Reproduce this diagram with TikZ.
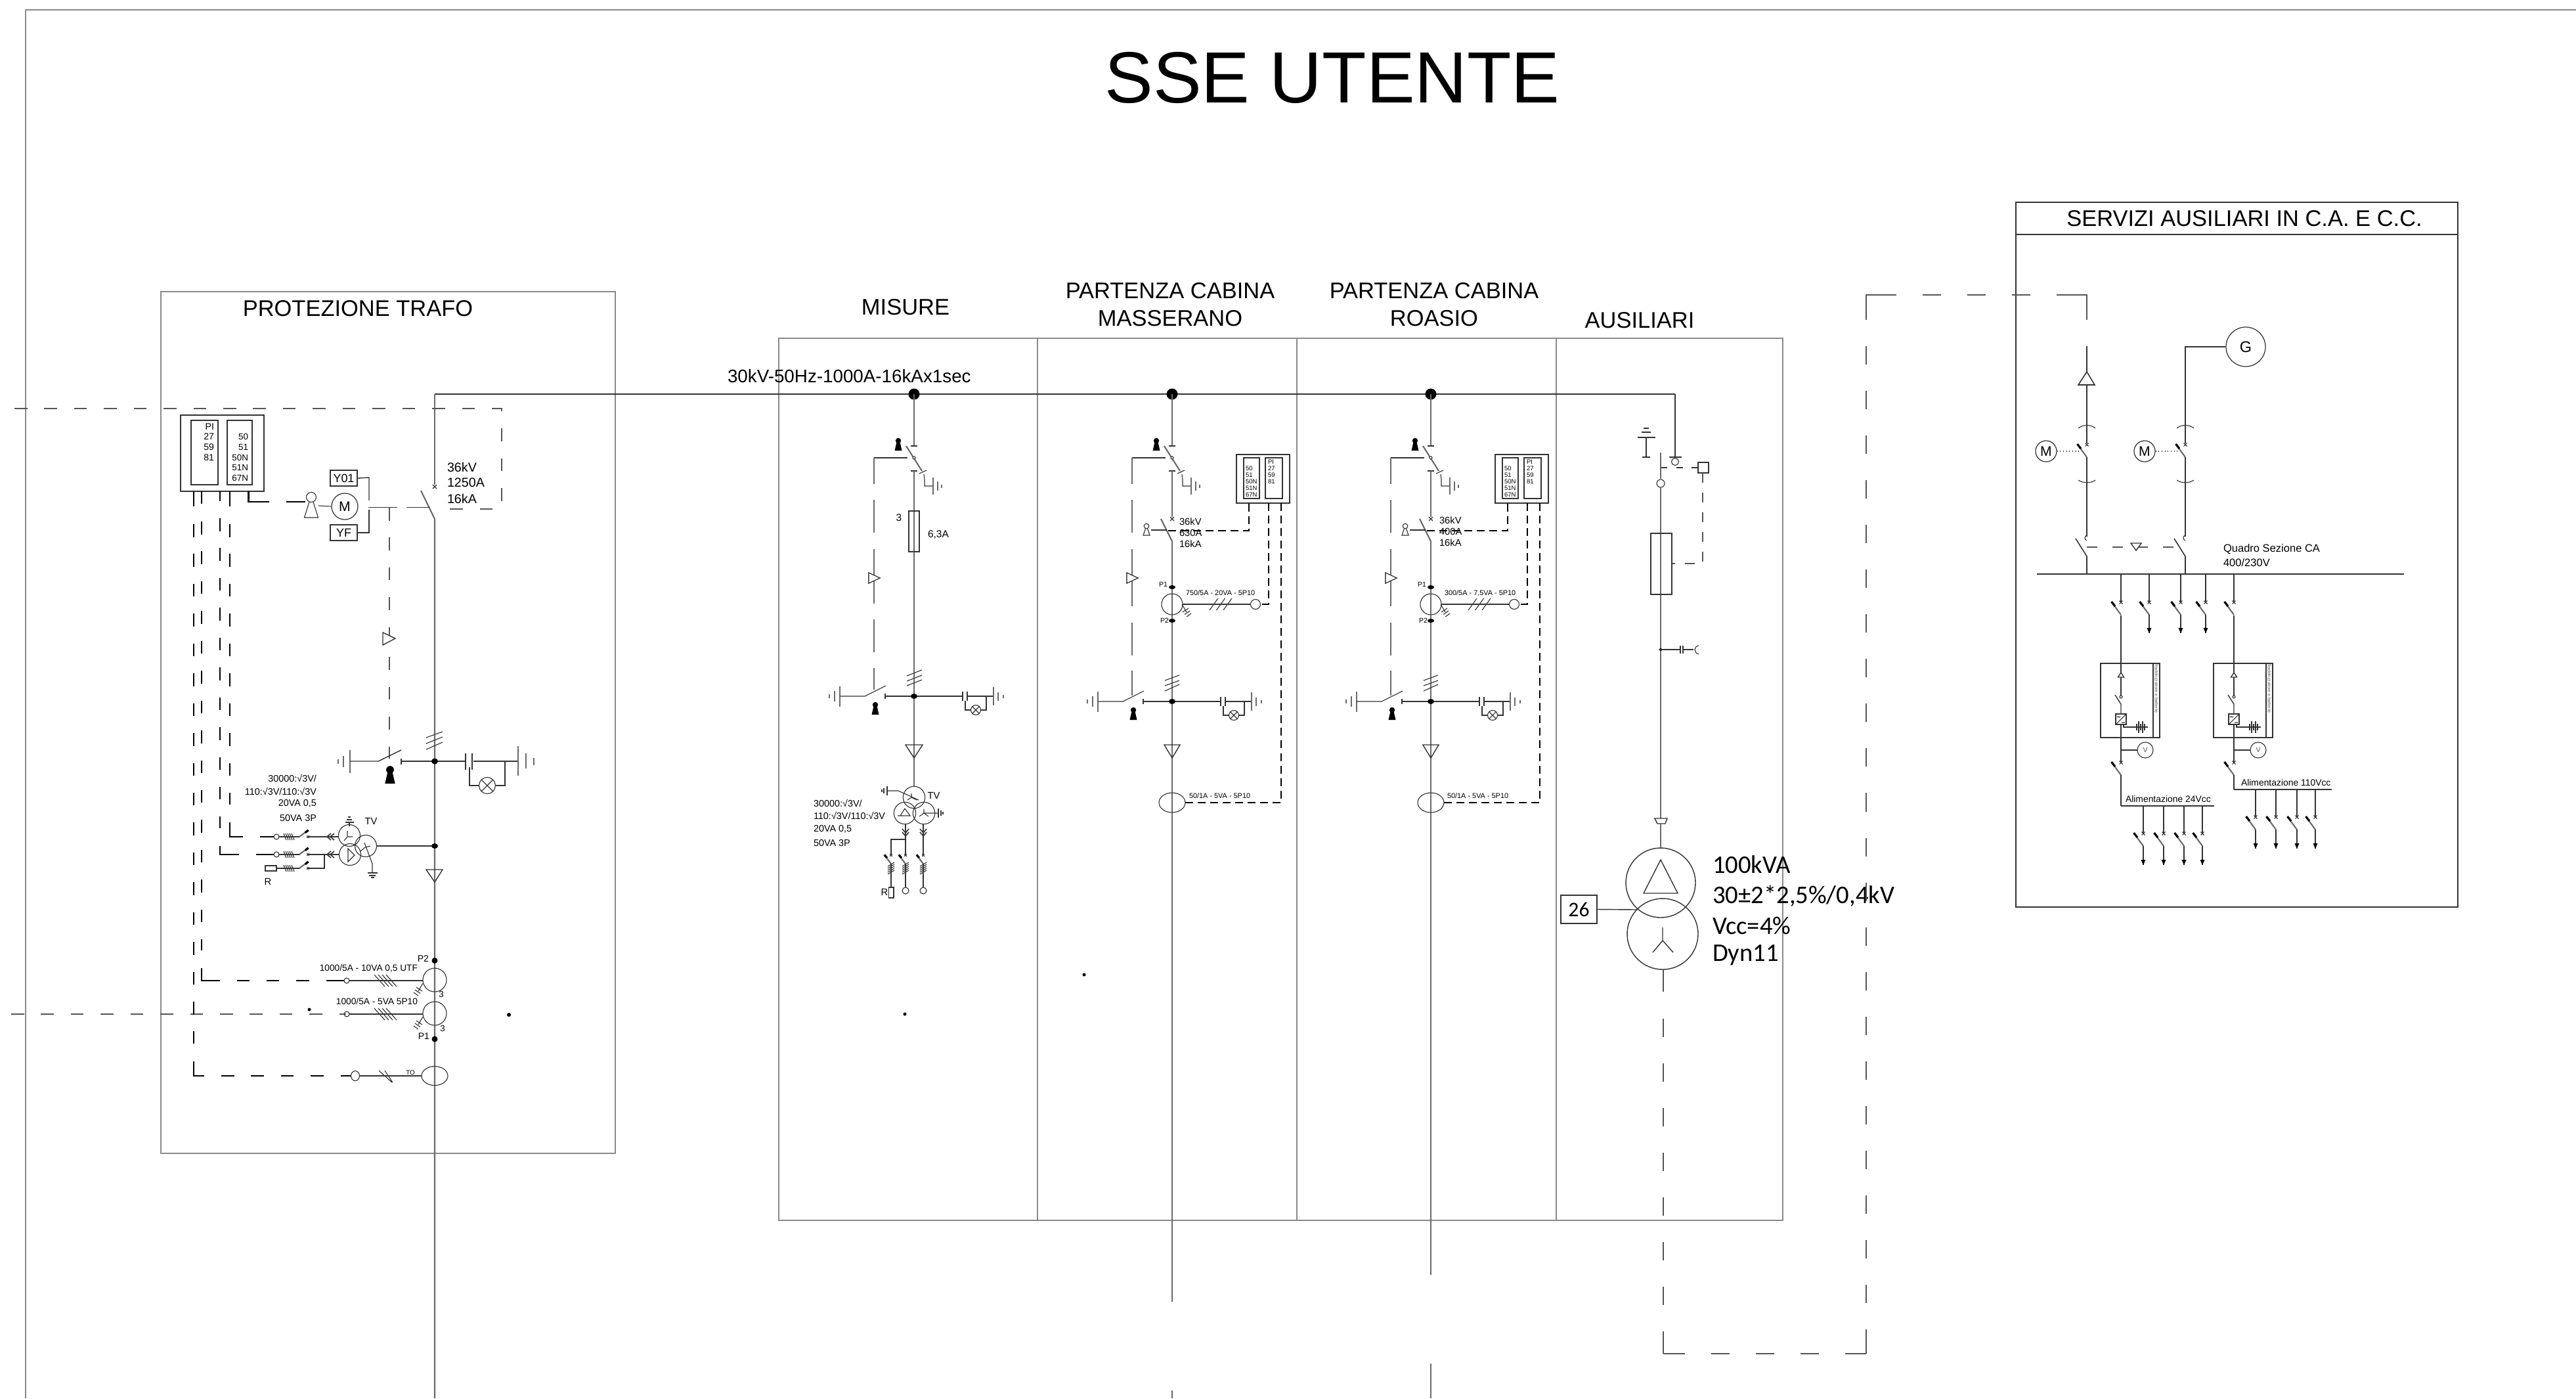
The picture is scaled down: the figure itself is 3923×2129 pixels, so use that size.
\documentclass[tikz,border=0pt]{standalone}
\usepackage{fontspec}
\setmainfont{Liberation Sans}
\newfontfamily\calfont{Carlito}
\newcommand\fsz[1]{\fontsize{#1}{#1}\selectfont}
\newcommand\Put[4][]{\begin{scope}[shift={(#2,#3)},#1]#4\end{scope}}
\definecolor{mainc}{HTML}{6A6A6A}
\definecolor{thinc}{HTML}{333333}
\definecolor{dashc}{HTML}{555555}
\definecolor{colc}{HTML}{8A8A8A}
\tikzset{
  mn/.style={draw=mainc,line width=.6pt},
  th/.style={draw=thinc,line width=.32pt},
  tk/.style={draw=black,line width=.6pt},
  frm/.style={draw=colc,line width=.55pt},
  dA/.style={dash pattern=on 5.55pt off 7.37pt},
  dB/.style={dash pattern=on 7.97pt off 11.38pt},
  dC/.style={dash pattern=on 3.41pt off 2.0pt},
  dD/.style={dash pattern=on 4.27pt off 4.27pt},
  lbl/.style={inner sep=0pt,outer sep=0pt,text=black},
  ttl/.style={lbl,font=\fsz{9.8},align=center},
  boxn/.style={draw=thinc,line width=.4pt,inner sep=0pt,font=\fsz{5.1},minimum width=.41cm,minimum height=.24cm},
  mach/.style={draw=thinc,line width=.35pt,circle,inner sep=0pt,font=\fsz{6},minimum size=.32cm},
}
% --- symbols, drawn round their own origin ---
\def\BKey{\fill[black] (0,0) circle[radius=4.2]; \fill[black] (-2,0)--(2,0)--(5.5,15)--(-5.5,15)--cycle;}
\def\WKey{\draw[th] (0,0) circle[radius=3.8]; \draw[th] (-1.5,3.6)--(-5,14)--(5,14)--(1.5,3.6);}
\def\Cross{\draw[th] (-3,-3)--(3,3) (-3,3)--(3,-3);}
\def\Mcb{\draw[th] (-2.5,-2.5)--(2.5,2.5) (-2.5,2.5)--(2.5,-2.5); \draw[mn] (-14,0)--(0,19); \draw[line width=.9pt,black] (-14.5,-1)--(-9,6);}
\def\HashV{\foreach \q in {-6,-3,0,3,6} {\draw[th] (-5,\q+3)--(5,\q-3);}}
\def\HashH{\foreach \q in {-6,-3,0,3,6} {\draw[th] (\q-2,-5)--(\q+2,5);}}
\def\ChevH{\draw[th,line width=.45pt] (3,-5)--(-3,0)--(3,5) (8,-5)--(2,0)--(8,5);}
\def\ChevV{\draw[th,line width=.45pt] (-5,-3)--(0,3)--(5,-3) (-5,2)--(0,8)--(5,2);}
\def\EarthCT{\draw[th] (0,0)--(7,12); \draw[th] (1,12)--(10,6) (4,15.5)--(12,10) (7,19)--(14,14);}
\def\Lamp#1{\draw[th] (0,0) circle[radius=#1]; \draw[th] (-.7*#1,-.7*#1)--(.7*#1,.7*#1) (-.7*#1,.7*#1)--(.7*#1,-.7*#1);}
\def\ArrowD{\fill[black] (-3.5,-8)--(3.5,-8)--(0,0)--cycle;}
\newcommand\Arcs[1]{\draw[th] (-13,#1+5) .. controls (-6,#1-1) and (6,#1-1) .. (13,#1+5);}
% earthing switch with capacitor and lamp of the right-hand bays (y is absolute)
\newcommand\LS[1]{\Put{0}{#1}{
  \draw[mn] (-113,-15.5)--(-113,15.5) (-121,-8)--(-121,8) (-129,-3)--(-129,3);
  \draw[th] (-113,0)--(-75,0)--(-43,-16);
  \draw[th] (-44,-4)--(-44,4) (-44,0)--(74,0);
  \draw[th] (74,-7)--(74,7) (81,-7)--(81,7);
  \draw[th] (82,0)--(121,0);
  \draw[mn] (121,-14)--(121,14) (128,-6.5)--(128,6.5) (136,-2.5)--(136,2.5);
  \draw[th] (78,7)--(78,21)--(87,21) (110,0)--(110,21)--(101,21);
  \Put{94}{21}{\Lamp{7.5}}
  \Put{-59}{13}{\BKey}
  \fill[black] (0,0) ellipse[x radius=5,y radius=4];
}}
% isolator at the top of a bay
\def\Isol{
  \fill[black] (0,600) circle[radius=8.5];
  \draw[mn] (0,600)--(0,679);
  \draw[th] (-5,679)--(5,679) (-5,717)--(5,717);
  \draw[mn] (-12,679)--(12,717);
  \draw[th,fill=white] (0,697) circle[radius=2];
  \draw[th] (8,721)--(19,716) (15,722)--(16,730)--(16,740)--(29,740);
  \draw[mn] (29,727)--(29,753) (36,733)--(36,747) (42,738)--(42,743);
  \Put{-24}{671}{\BKey}
  \draw[th,line width=.4pt] (-10,697)--(-61,697);
  \draw[mn,line width=.45pt] (-61,697)--(-61,737) (-61,761)--(-61,811);
  \draw[th,fill=white] (-69,872)--(-52,880)--(-69,888)--cycle;
}
% one outgoing bay
\newcommand\Bay[7]{\Put{#1}{0}{
  \Isol
  \draw[mn,line width=.45pt] (-61,836)--(-61,923) (-61,948)--(-61,998) (-61,1021)--(-61,1059);
  \draw[th,fill=white] (-69,872)--(-52,880)--(-69,888)--cycle;
  \draw[mn] (0,717)--(0,787);
  \Put{0}{790}{\Cross}
  \draw[mn] (-17,790)--(0,824);
  \draw[mn] (0,824)--(0,#4) (0,#5)--(0,2129);
  \Put{-39}{801}{\WKey}
  \draw[th] (-32,807)--(-8,807);
  \node[lbl,anchor=west,font=\fsz{4.2}] (a#1) at (#6,794+#7) {36kV};
  \node[lbl,anchor=west,font=\fsz{4.2}] (b#1) at (#6,811+#7) {#2};
  \node[lbl,anchor=west,font=\fsz{4.2}] (c#1) at (#6,828+#7) {16kA};
  \draw[tk,dC] (-6,808)--(117,808)--(117,766);
  % relay
  \draw[th,line width=.45pt] (98,692) rectangle (179,766);
  \draw[th,line width=.45pt] (109,697) rectangle (133,759) (142,697) rectangle (168,759);
  \foreach \y/\t in {713/50,723/51,733/50N,743/51N,753/67N} {\node[lbl,anchor=west,font=\fsz{2.7}] at (112,\y) {\t};}
  \foreach \y/\t in {703/PI,713/27,723/59,733/81} {\node[lbl,anchor=west,font=\fsz{2.7}] at (146,\y) {\t};}
  \draw[tk,dC] (147,766)--(147,920)--(135,920);
  \draw[tk,dC] (166,766)--(166,1222)--(20,1222);
  % CT
  \draw[th] (0,920) circle[radius=16];
  \fill[black] (0,894) ellipse[x radius=5,y radius=3] (0,945) ellipse[x radius=5,y radius=3];
  \node[lbl,anchor=east,font=\fsz{3}] at (-7,890) {P1};
  \node[lbl,anchor=east,font=\fsz{3}] at (-5,945) {P2};
  \draw[th,line width=.4pt] (16,920)--(120,920);
  \draw[th] (127,920) circle[radius=7.5];
  \foreach \q in {57,67.5,78} {\draw[th] (\q,929)--(\q+13,911);}
  \Put{15}{920}{\EarthCT}
  \node[lbl,anchor=west,font=\fsz{3.1}] at (21,903) {#3};
  % hash
  \draw[th] (-11,1036)--(11,1028) (-11,1044)--(11,1036) (-11,1052)--(11,1042);
  \LS{1068}
  \draw[th,line width=.4pt] (-12,1134)--(12,1134)--(0,1154)--cycle;
  \draw[th] (0,1222) ellipse[x radius=20,y radius=15];
}}
% low-voltage feeder with arrow
\newcommand\Feeder[4]{\Put{#1}{0}{
  \draw[th,line width=.4pt] (0,#2)--(0,#3);
  \Put{0}{#3}{\Mcb}
  \draw[th,line width=.4pt] (0,#3+19)--(0,#4);
  \Put{0}{#4}{\ArrowD}
}}
% rectifier enclosure
\newcommand\Ups[2]{\Put{#1}{0}{
  \draw[th,line width=.45pt] (-31,1010) rectangle (59,1123);
  \draw[th,line width=#2] (49,1010)--(49,1123);
  \node[lbl,rotate=-90,font=\fsz{2},text=dashc] at (54,1048) {Raddrizzatore e batterie};
  \draw[th,line width=.4pt] (0,937)--(0,1024);
  \draw[th,line width=.4pt,fill=white] (0,1024)--(4.5,1031)--(-4.5,1031)--cycle;
  \draw[th,line width=.4pt] (0,1031)--(0,1059);
  \draw[th,fill=white] (0,1061) circle[radius=2];
  \draw[th,line width=.4pt] (-9,1058)--(0,1072)--(0,1087);
  \draw[th,line width=.4pt] (-8,1087) rectangle (8,1103);
  \draw[th] (-8,1103)--(8,1087) (1,1100)--(6,1100);
  \draw[th] (-6,1092) .. controls (-4,1089) and (-3,1094) .. (-1,1091);
  \draw[th] (4,1103)--(4,1107)--(41,1107);
  \draw[th] (24,1102)--(24,1112) (27,1098)--(27,1116) (30,1102)--(30,1112) (33,1098)--(33,1116) (36,1102)--(36,1112);
  \draw[th,line width=.4pt] (0,1103)--(0,1161) (0,1142)--(25,1142);
  \draw[th] (37,1142) circle[radius=12];
  \node[lbl,font=\fsz{3},text=dashc] at (37,1142) {V};
  \Put{0}{1161}{\Mcb}
}}
\begin{document}
\begin{tikzpicture}[x=0.01cm,y=-0.01cm]
\useasboundingbox (0,0) rectangle (3923,2129);
\fill[white] (0,0) rectangle (3923,2129);
% outer frame
\draw[frm] (3923,15)--(39,15)--(39,2129);
\node[lbl,font=\fsz{31.4}] (title) at (2029,118) {SSE UTENTE};
% boxes
\draw[frm] (245,444) rectangle (937,1756);
\draw[frm] (1186,515) rectangle (2715,1858);
\draw[frm] (1580,515)--(1580,1858) (1975,515)--(1975,1858) (2370,515)--(2370,1858);
\draw[frm,draw=thinc] (3070,308) rectangle (3743,1381);
\draw[th,line width=.45pt] (3070,357)--(3743,357);
% titles
\node[ttl] (tp) at (545,470) {PROTEZIONE TRAFO};
\node[ttl] (tm) at (1379,468) {MISURE};
\node[ttl] (tb1a) at (1782,443) {PARTENZA CABINA};
\node[ttl] (tb1b) at (1782,485) {MASSERANO};
\node[ttl] (tb2a) at (2184,443) {PARTENZA CABINA};
\node[ttl] (tb2b) at (2184,485) {ROASIO};
\node[ttl] (ta) at (2497,488) {AUSILIARI};
\node[ttl] (ts) at (3418,333) {SERVIZI AUSILIARI IN C.A. E C.C.};
\node[lbl,font=\fsz{7.9},anchor=west] (tv) at (1108,573) {30kV-50Hz-1000A-16kAx1sec};
% busbar
\draw[mn,draw=thinc,line width=.55pt] (662,600)--(2551,600);
% ---------------- PROTEZIONE TRAFO ----------------
\draw[mn] (662,600)--(662,738);
\Put{662}{741}{\Cross}
\draw[mn] (641,747)--(662,790)--(662,2129);
\draw[dashc,line width=.4pt,dA] (22,622)--(764,622)--(764,775)--(672,775);
\draw[dashc,line width=.4pt,dA] (17,1544)--(527,1544);
\node[lbl,font=\fsz{5.6},anchor=west] (cb1) at (681,711) {36kV};
\node[lbl,font=\fsz{5.6},anchor=west] (cb2) at (681,735) {1250A};
\node[lbl,font=\fsz{5.6},anchor=west] (cb3) at (681,759) {16kA};
% relay
\draw[th,line width=.5pt] (275,632) rectangle (402,748);
\draw[th,line width=.45pt] (291,640) rectangle (332,738) (346,640) rectangle (384,738);
\foreach \y/\t in {650/PI,665/27,681/59,697/81} {\node[lbl,anchor=east,font=\fsz{4}] at (326,\y) {\t};}
\foreach \y/\t in {665/50,681/51,697/50N,712/51N,728/67N} {\node[lbl,anchor=east,font=\fsz{3.8}] at (378,\y) {\t};}
% protection wires
\draw[tk] (295,748)--(295,771) (307,748)--(307,767) (335,748)--(335,762.5) (350,748)--(350,770.6);
\draw[tk,dA] (295,798)--(295,1589);
\draw[tk,dA] (307,794)--(307,1447);
\draw[tk,dA] (335,789)--(335,1261);
\draw[tk,dA] (350,798)--(350,1225);
\draw[tk] (295,1616)--(295,1638)--(311,1638) (307,1474)--(307,1493)--(335,1493) (335,1288)--(335,1301)--(364,1301) (350,1252)--(350,1274)--(370,1274);
\draw[tk,dA] (337,1638)--(519,1638);
\draw[tk] (519,1638)--(534,1638);
\draw[tk,dA] (360.5,1493)--(497,1493);
\draw[tk] (497,1493)--(524,1493);
\draw[tk] (389.5,1301)--(417,1301) (396,1274)--(417,1274);
\draw[tk] (378.5,748)--(378.5,764)--(410,764) (436,764)--(465,764);
% operating mechanism
\Put{474}{757}{\draw[th] (0,0) circle[radius=7.5]; \draw[th] (-3,7)--(-10.5,31)--(10.5,31)--(3,7);}
\node[mach,minimum size=.4cm,font=\fsz{6}] (mot) at (525,771) {M};
\draw[th] (485,770)--(mot.west);
\node[boxn] (y01) at (523.5,728) {Y01};
\node[boxn] (yf) at (523.5,811) {YF};
\draw[th,line width=.4pt] (y01.east)--(562,727)--(562,762);
\draw[th,line width=.4pt] (yf.east)--(562,811)--(562,776);
\draw[th,line width=.4pt] (561,772.5)--(605,772.5) (619,772.5)--(655,772.5);
\draw[dashc,line width=.4pt,dA] (593,773)--(593,1155);
\draw[th,line width=.4pt,fill=white] (583,963)--(602,972)--(583,982)--cycle;
% earth switch
\draw[th] (649,1123)--(674,1114) (649,1132)--(674,1122) (649,1141)--(674,1130);
\draw[mn] (533,1142)--(533,1177) (523,1151)--(523,1168) (515,1156)--(515,1163);
\draw[th,line width=.4pt] (533,1159)--(576,1159)--(611,1142);
\draw[th,line width=.4pt] (611,1155)--(611,1164) (611,1159)--(709,1159);
\draw[th,line width=.4pt] (709,1147)--(709,1172) (719,1147)--(719,1172);
\draw[th,line width=.4pt] (721,1159)--(789,1159);
\draw[mn] (789,1136)--(789,1181) (801,1147)--(801,1170) (813,1154)--(813,1165);
\draw[th] (715,1168)--(715,1196)--(730,1196) (769,1159)--(769,1196)--(755,1196);
\Put{742}{1196}{\Lamp{12.5}}
\Put[scale=1.4]{594}{1172}{\BKey}
\fill[black] (662,1159) ellipse[x radius=5,y radius=4.5];
\node[lbl,anchor=east,font=\fsz{4.1},align=right] (v1) at (482,1185) {30000:√3V/};
\node[lbl,anchor=east,font=\fsz{4.1}] (v2) at (482,1205) {110:√3V/110:√3V};
\node[lbl,anchor=east,font=\fsz{4.1}] (v3) at (482,1223) {20VA 0,5};
\node[lbl,anchor=east,font=\fsz{4.1}] (v4) at (482,1246) {50VA 3P};
% VT
\draw[th] (532,1272) circle[radius=16.5] (533,1301) circle[radius=16.5] (557,1288) circle[radius=16.5];
\draw[th,line width=.4pt] (574,1288)--(662,1288);
\fill[black] (662,1288) ellipse[x radius=5,y radius=4];
\node[lbl,font=\fsz{4.2}] (tvl) at (565,1250) {TV};
\draw[th] (532,1258)--(532,1252) (526,1252)--(539,1252) (528,1248)--(536,1248) (530,1244)--(534,1244);
\draw[th] (529,1274)--(529,1265) (529,1274)--(524,1280) (529,1274)--(537,1274);
\draw[th] (530,1292)--(540,1302)--(530,1312)--cycle;
\draw[th] (555,1283)--(567,1315)--(567,1329) (556,1290)--(549,1296) (556,1290)--(564,1288);
\draw[th] (560,1329)--(575,1329) (562,1333)--(572,1333) (565,1336)--(570,1336);
\draw[th,line width=.4pt] (516,1274)--(469,1274) (516,1301)--(469,1301) (494,1301)--(494,1322)--(469,1322);
\draw[th,line width=.4pt] (457,1274)--(425,1274) (457,1301)--(425,1301) (457,1322)--(421,1322);
\Put{501}{1274}{\ChevH}
\Put{501}{1301}{\ChevH}
\foreach \y in {1274,1301,1322} {
  \Put[rotate=-90,scale=.7]{469}{\y}{\Mcb}
  \Put{440}{\y}{\HashH}
}
\draw[th] (421,1274) circle[radius=4] (421,1301) circle[radius=4];
\draw[th] (404,1318) rectangle (421,1326);
\node[lbl,font=\fsz{4.2}] (rl) at (408,1342) {R};
\draw[th,line width=.4pt] (649,1324)--(674,1324)--(662,1343)--cycle;
% CTs
\fill[black] (662,1462.5) circle[radius=4.5] (662,1582) circle[radius=4.5];
\node[lbl,anchor=east,font=\fsz{4}] (p2) at (653,1460) {P2};
\node[lbl,anchor=east,font=\fsz{4}] (p1) at (654,1578) {P1};
\draw[th] (662,1492) circle[radius=18] (662,1543) circle[radius=18];
\node[lbl,font=\fsz{3.8}] (c3a) at (672,1514) {3};
\node[lbl,font=\fsz{3.8}] (c3b) at (674,1566) {3};
\node[lbl,anchor=east,font=\fsz{3.9}] (ct1) at (636,1474) {1000/5A - 10VA 0,5 UTF};
\node[lbl,anchor=east,font=\fsz{3.9}] (ct2) at (636,1525) {1000/5A - 5VA 5P10};
\draw[th] (528,1493) circle[radius=4] (528,1544) circle[radius=4];
\draw[th,line width=.4pt] (532,1493)--(644,1493) (532,1544)--(644,1544);
\foreach \y in {1493,1544} {
  \foreach \q in {570,576,582,588} {\draw[th] (\q,\y-9)--(\q+16,\y+9);}
  \Put[xscale=-1]{644}{\y+4}{\EarthCT}
}
\draw[th] (662,1638) ellipse[x radius=20,y radius=14.5];
\draw[th] (541,1638) ellipse[x radius=6.5,y radius=7.5];
\draw[th,line width=.4pt] (547.5,1638)--(642,1638);
\draw[th] (577,1630)--(597,1648) (586,1630)--(598,1648);
\node[lbl,font=\fsz{2.8}] (tol) at (625,1633) {TO};
\fill[black] (471,1537) circle[radius=2.5] (775,1545) circle[radius=3] (1378,1544) circle[radius=2.5] (1651,1484) circle[radius=2.5];
% ---------------- MISURE ----------------
\Put{1392}{0}{
  \Isol
  \draw[mn,line width=.45pt] (-61,836)--(-61,919) (-61,943)--(-61,993) (-61,1017)--(-61,1050);
  \draw[th,fill=white] (-69,872)--(-52,880)--(-69,888)--cycle;
  \draw[mn] (0,717)--(0,1197);
  \draw[th,line width=.4pt] (-8,778) rectangle (8,840);
  \node[lbl,font=\fsz{4.4}] at (-23,788) {3};
  \node[lbl,anchor=west,font=\fsz{4.4}] at (21,814) {6,3A};
  \draw[th] (-11,1029)--(12,1020) (-11,1037)--(12,1028) (-11,1044)--(12,1035);
  \LS{1060}
  \draw[th,line width=.4pt] (-13,1134)--(13,1134)--(0,1154)--cycle;
  \draw[th] (0,1214) circle[radius=16.7] (-14,1238) circle[radius=16.7] (15,1238) circle[radius=16.7];
  \node[lbl,font=\fsz{4.2}] at (30,1211) {TV};
  % star with earth
  \draw[th] (7,1218)--(-24,1204)--(-41,1204);
  \draw[th] (-41,1197)--(-41,1211) (-46,1200)--(-46,1208) (-49,1202)--(-49,1206);
  \draw[th] (-4,1208)--(-4,1214) (-4,1214)--(-10,1218) (-4,1214)--(4,1218);
  % delta
  \draw[th] (-14,1231)--(-6,1242)--(-21,1242)--cycle (-25,1242)--(-6,1242);
  % star right
  \draw[th] (15,1238)--(37,1238) (15,1238)--(15,1232) (15,1238)--(8,1243) (15,1238)--(22,1243);
  \draw[th] (37,1231)--(37,1245) (41,1234)--(41,1242) (44,1236)--(44,1240);
  % secondary
  \draw[th,line width=.4pt] (-13,1255)--(-13,1301) (14,1255)--(14,1301) (-13,1278)--(-35,1278)--(-35,1301);
  \Put{-13}{1265}{\ChevV}
  \Put{14}{1265}{\ChevV}
  \foreach \q in {-35,-13,14} {
    \Put[scale=.7]{\q}{1302}{\Mcb}
    \draw[th,line width=.4pt] (\q,1315)--(\q,1351);
    \Put{\q}{1322}{\HashV}
  }
  \draw[th] (-13,1356) circle[radius=5] (14,1356) circle[radius=5];
  \draw[th] (-38.5,1351) rectangle (-31,1367);
  \node[lbl,font=\fsz{4.2}] at (-45,1358) {R};
}
\node[lbl,anchor=west,font=\fsz{4.1}] (mv1) at (1239,1223) {30000:√3V/};
\node[lbl,anchor=west,font=\fsz{4.1}] (mv2) at (1239,1242) {110:√3V/110:√3V};
\node[lbl,anchor=west,font=\fsz{4.1}] (mv3) at (1239,1262) {20VA 0,5};
\node[lbl,anchor=west,font=\fsz{4.1}] (mv4) at (1239,1284) {50VA 3P};
% ---------------- BAYS ----------------
\Bay{1785}{630A}{750/5A - 20VA - 5P10}{1982}{2117}{11}{0}
\Bay{2179}{400A}{300/5A - 7,5VA - 5P10}{1941}{2076}{13}{-2}
\node[lbl,font=\fsz{3.1},anchor=west] (be1) at (1811,1212) {50/1A - 5VA - 5P10};
\node[lbl,font=\fsz{3.1},anchor=west] (be2) at (2204,1212) {50/1A - 5VA - 5P10};
% ---------------- AUSILIARI ----------------
\draw[mn,draw=thinc,line width=.45pt] (2551,600)--(2551,696);
\draw[th,line width=.4pt] (2542,696)--(2561,696);
\draw[th] (2551,703) ellipse[x radius=5.5,y radius=5.5];
\draw[th,line width=.4pt] (2529,712)--(2539,712) (2553,712)--(2563,712) (2576,712)--(2586,712);
\draw[th,line width=.4pt] (2586,704) rectangle (2602,720);
\draw[mn] (2529,689)--(2529,729);
\draw[th] (2529,736) circle[radius=6];
\draw[mn] (2529,742)--(2529,1246);
\draw[th,line width=.4pt] (2501,696)--(2513,696) (2507,696)--(2507,666) (2494,666)--(2521,666) (2500,658)--(2514,658) (2503,652)--(2511,652);
\draw[dashc,line width=.4pt,dD] (2593,720)--(2593,858)--(2546,858);
\draw[th,line width=.4pt] (2514,812) rectangle (2546,905);
\fill[black] (2529,989) circle[radius=2];
\draw[th] (2529,989)--(2559,989) (2559,983)--(2559,995) (2563,983)--(2563,995) (2563,989)--(2579,989);
\draw[th] (2587,983) .. controls (2579,984) and (2579,994) .. (2587,996);
\draw[th,line width=.4pt] (2520,1246)--(2539,1246)--(2536,1254)--(2524,1254)--cycle;
\draw[mn] (2529,1254)--(2529,1292);
\draw[th,line width=.4pt] (2529,1344) circle[radius=53] (2532,1422) circle[radius=54];
\draw[th,line width=.4pt] (2529,1309)--(2555,1360)--(2503,1360)--cycle;
\draw[th,line width=.4pt] (2532,1432)--(2532,1412) (2532,1432)--(2517,1450) (2532,1432)--(2548,1450);
\node[draw=thinc,line width=.4pt,inner sep=0pt,minimum width=.55cm,minimum height=.43cm,font=\calfont\fsz{9}] (t26) at (2404.5,1384.5) {26};
\draw[th,line width=.4pt] (t26.east)--(2493,1385);
\node[lbl,anchor=west,font=\calfont\fsz{11}] (k1) at (2608,1316) {100kVA};
\node[lbl,anchor=west,font=\calfont\fsz{11}] (k2) at (2608,1364) {30±2*2,5\%/0,4kV};
\node[lbl,anchor=west,font=\calfont\fsz{11}] (k3) at (2608,1409) {Vcc=4\%};
\node[lbl,anchor=west,font=\calfont\fsz{11}] (k4) at (2608,1454) {Dyn11};
% long dashed link
\draw[dashc,line width=.45pt] (2533,1475)--(2533,1510);
\draw[dashc,line width=.45pt,dB] (2533,1551)--(2533,2000);
\draw[dashc,line width=.45pt] (2533,2027)--(2533,2061);
\draw[draw=dashc,line width=.7pt] (2533,2061)--(2566,2061);
\draw[draw=dashc,line width=.7pt,dB] (2606,2061)--(2800,2061);
\draw[draw=dashc,line width=.7pt] (2810,2061)--(2842,2061);
\draw[dashc,line width=.45pt] (2842,2061)--(2842,2024);
\draw[dashc,line width=.45pt,dB] (2842,1984)--(2842,520);
\draw[dashc,line width=.45pt] (2842,487)--(2842,449)--(2888,449);
\draw[dashc,line width=.45pt,dB] (2928,449)--(3100,449);
\draw[dashc,line width=.45pt] (3132,449)--(3178,449)--(3178,487);
% ---------------- SERVIZI AUSILIARI ----------------
\draw[th,line width=.45pt] (3178,527)--(3178,566);
\draw[th,line width=.45pt,fill=white] (3178,566)--(3190,586)--(3165,586)--cycle;
\draw[th,line width=.45pt] (3178,586)--(3178,675);
\Put{3178}{0}{\Arcs{647}}
\node[mach,minimum size=.6cm,font=\fsz{6.7}] (gen) at (3420,528) {G};
\draw[th,line width=.45pt] (gen.west)--(3328,528)--(3328,675);
\Put{3328}{0}{\Arcs{647}}
\foreach \x/\n in {3178/ma,3328/mb} {
  \Put{\x}{677}{\Mcb}
  \draw[th,line width=.45pt] (\x,696)--(\x,817);
  \Put{\x}{0}{\draw[th] (-13,731) .. controls (-6,736) and (6,736) .. (13,731);
              \draw[th] (0,815) .. controls (-4,816) and (-4,822) .. (0,823);}
  \draw[th,line width=.45pt] (\x-17,820)--(\x,847)--(\x,874);
}
\node[mach] (ma) at (3116,687) {M};
\node[mach] (mb) at (3266,687) {M};
\draw[th,densely dotted] (ma.east)--(3166,687);
\draw[th,densely dotted] (mb.east)--(3316,687);
\draw[dashc,line width=.4pt,dash pattern=on 4.5pt off 6.5pt] (3178,833)--(3318,833);
\draw[th,line width=.4pt,fill=white] (3245,827)--(3261,827)--(3253,838)--cycle;
\draw[th,line width=.5pt] (3102,874)--(3661,874);
\node[lbl,anchor=west,font=\fsz{4.7}] (q1) at (3386,836) {Quadro Sezione CA};
\node[lbl,anchor=west,font=\fsz{4.7}] (q2) at (3386,857) {400/230V};
\foreach \x in {3273,3321,3359} {\Feeder{\x}{874}{917}{964}}
\Put{3230}{917}{\Mcb}
\Put{3402}{917}{\Mcb}
\draw[th,line width=.4pt] (3230,874)--(3230,917) (3402,874)--(3402,917);
\Ups{3230}{.4pt}
\Ups{3402}{.7pt}
\draw[th,line width=.4pt] (3230,1180)--(3230,1227);
\draw[th,line width=.55pt] (3230,1227)--(3372,1227);
\draw[th,line width=.4pt] (3402,1180)--(3402,1202);
\draw[th,line width=.55pt] (3402,1202)--(3551,1202);
\node[lbl,anchor=west,font=\fsz{3.95}] (a24) at (3237,1217) {Alimentazione 24Vcc};
\node[lbl,anchor=west,font=\fsz{3.95}] (a110) at (3413,1192) {Alimentazione 110Vcc};
\foreach \x in {3264,3295,3326,3354} {\Feeder{\x}{1227}{1269}{1317}}
\foreach \x in {3435,3466,3498,3526} {\Feeder{\x}{1202}{1244}{1292}}
\end{tikzpicture}
\end{document}
